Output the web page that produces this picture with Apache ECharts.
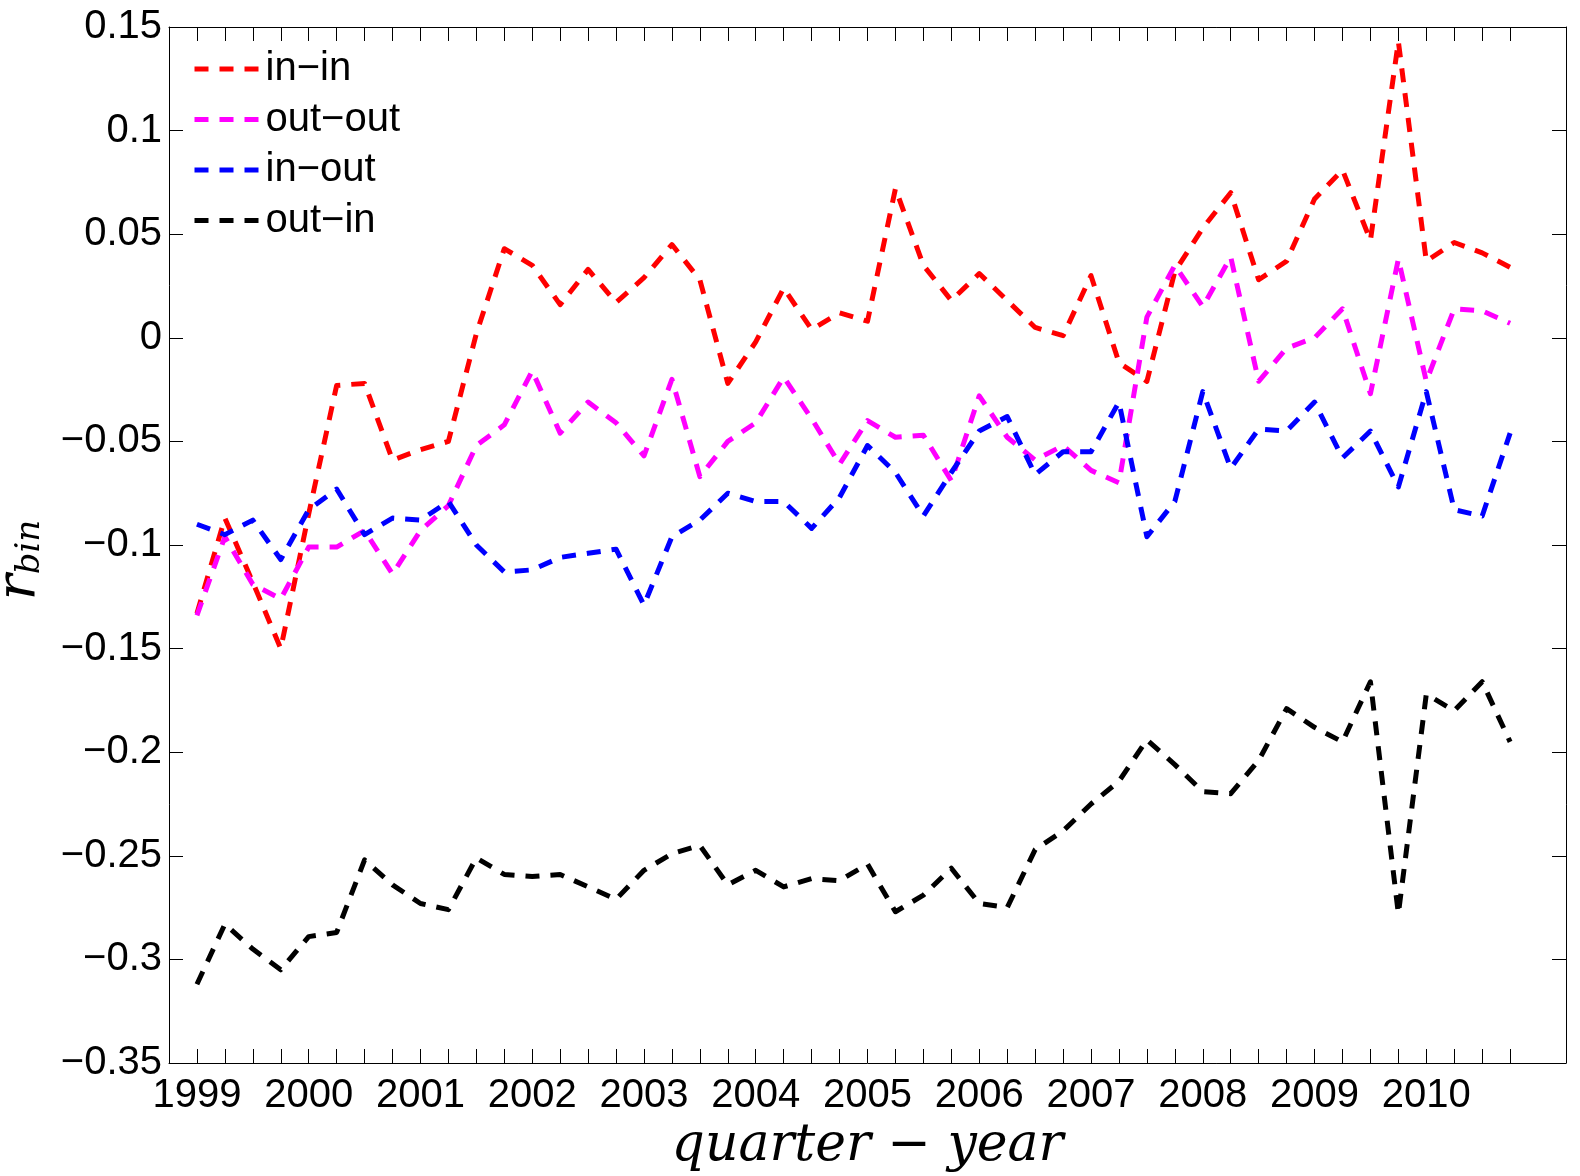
<!DOCTYPE html>
<html>
<head>
<meta charset="utf-8">
<script src="https://cdn.jsdelivr.net/npm/echarts@6/dist/echarts.min.js"></script>
<style>
html,body{margin:0;padding:0;background:#ffffff;}
#chart{width:1580px;height:1176px;}
</style>
</head>
<body>
<div id="chart"></div>
<script>
// ---- data (quarterly, 1999 Q1 .. 2010 Q4) ----
const years = ['1999','2000','2001','2002','2003','2004','2005','2006','2007','2008','2009','2010'];
const seriesNames = ['in\u2212in','out\u2212out','in\u2212out','out\u2212in'];
const seriesColors = ['#ff0000','#ff00ff','#0000ff','#000000'];

const inIn = [
  -0.133,-0.087,-0.118,-0.150, -0.085,-0.023,-0.022,-0.059,
  -0.054,-0.050, 0.002, 0.043,  0.035, 0.016, 0.033, 0.017,
   0.029, 0.045, 0.028,-0.022, -0.002, 0.024, 0.004, 0.012,
   0.008, 0.072, 0.035, 0.018,  0.031, 0.018, 0.005, 0.001,
   0.030,-0.012,-0.021, 0.032,  0.053, 0.070, 0.028, 0.037,
   0.067, 0.081, 0.047, 0.143,  0.037, 0.046, 0.041, 0.034
];
const outOut = [
  -0.134,-0.096,-0.119,-0.126, -0.101,-0.101,-0.093,-0.114,
  -0.093,-0.081,-0.052,-0.042, -0.016,-0.046,-0.031,-0.041,
  -0.057,-0.020,-0.067,-0.050, -0.041,-0.019,-0.039,-0.061,
  -0.040,-0.048,-0.047,-0.069, -0.028,-0.048,-0.059,-0.052,
  -0.064,-0.070, 0.010, 0.035,  0.015, 0.039,-0.021,-0.005,
   0.000, 0.014,-0.027, 0.038, -0.021, 0.014, 0.013, 0.007
];
const inOut = [
  -0.090,-0.095,-0.088,-0.107, -0.083,-0.073,-0.095,-0.087,
  -0.088,-0.079,-0.100,-0.113, -0.112,-0.106,-0.104,-0.102,
  -0.129,-0.096,-0.088,-0.075, -0.079,-0.079,-0.092,-0.077,
  -0.052,-0.065,-0.086,-0.065, -0.045,-0.038,-0.066,-0.055,
  -0.055,-0.031,-0.096,-0.079, -0.026,-0.063,-0.044,-0.045,
  -0.031,-0.058,-0.045,-0.072, -0.026,-0.083,-0.086,-0.046
];
const outIn = [
  -0.312,-0.283,-0.295,-0.305, -0.289,-0.287,-0.252,-0.264,
  -0.273,-0.276,-0.251,-0.259, -0.260,-0.259,-0.265,-0.271,
  -0.257,-0.249,-0.245,-0.264, -0.257,-0.265,-0.261,-0.262,
  -0.254,-0.277,-0.269,-0.256, -0.273,-0.275,-0.247,-0.238,
  -0.225,-0.214,-0.194,-0.206, -0.219,-0.220,-0.204,-0.179,
  -0.188,-0.195,-0.166,-0.278, -0.172,-0.180,-0.166,-0.195
];
const yMin = -0.35, yMax = 0.15, yStep = 0.05;

// ---- build category axis: one slot before, 48 quarters, two slots after ----
const quarters = [];
years.forEach(y => { ['Q1','Q2','Q3','Q4'].forEach(q => quarters.push(y + ' ' + q)); });
const xCats = ['pad0'].concat(quarters, ['pad49','pad50']);
const tickFn = (idx) => idx >= 1 && idx <= quarters.length;
const labelFn = (idx, val) => /Q1$/.test(val);

const allData = [inIn, outOut, inOut, outIn];
const dash = [14, 11];
const lineW = 5;

const axisLineStyle = {color:'#000000', width:1};
const tickStyle = {color:'#000000', width:1};
const tickFont = {fontFamily:'Liberation Sans', fontSize:40, color:'#000000'};

const chart = echarts.init(document.getElementById('chart'), null, {renderer:'canvas'});
chart.setOption({
  backgroundColor:'#ffffff',
  animation:false,
  grid:{left:169, top:27, right:14, bottom:113, containLabel:false, outerBoundsMode:'none'},
  legend:{
    left:187, top:44, orient:'vertical', padding:5,
    itemWidth:66, itemHeight:20, itemGap:10.5,
    itemStyle:{opacity:0},
    lineStyle:{width:lineW, type:dash, opacity:1},
    textStyle:{fontFamily:'Liberation Sans', fontSize:40, lineHeight:40, color:'#000000'},
    data: seriesNames
  },
  xAxis:[
    {
      type:'category', data:xCats, boundaryGap:false, position:'bottom',
      axisLine:{show:true, onZero:false, lineStyle:axisLineStyle},
      axisTick:{show:true, inside:true, length:14, interval:tickFn, lineStyle:tickStyle},
      axisLabel:Object.assign({interval:labelFn, formatter:(v)=>v.slice(0,4), margin:13}, tickFont),
      splitLine:{show:false},
      name:'quarter \u2212 year', nameLocation:'middle', nameGap:53,
      nameTextStyle:{fontFamily:'DejaVu Serif', fontStyle:'italic', fontSize:52, color:'#000000'}
    },
    {
      type:'category', data:xCats, boundaryGap:false, position:'top',
      axisLine:{show:true, onZero:false, lineStyle:axisLineStyle},
      axisTick:{show:true, inside:true, length:14, interval:tickFn, lineStyle:tickStyle},
      axisLabel:{show:false}, splitLine:{show:false}
    }
  ],
  yAxis:[
    {
      type:'value', min:yMin, max:yMax, interval:yStep, position:'left',
      axisLine:{show:true, onZero:false, lineStyle:axisLineStyle},
      axisTick:{show:true, inside:true, length:14, lineStyle:tickStyle},
      axisLabel:Object.assign({margin:7, formatter:(v)=>{
        const r = Math.round(v*100)/100;
        return (r < 0 ? '\u2212' : '') + String(Math.abs(r));
      }}, tickFont),
      splitLine:{show:false},
      name:'{r|r}{s|bin}', nameLocation:'middle', nameRotate:90, nameGap:122,
      nameTextStyle:{
        color:'#000000',
        padding:[0, 30, 0, 0],
        rich:{
          r:{fontFamily:'DejaVu Serif', fontStyle:'italic', fontSize:54, color:'#000000'},
          s:{fontFamily:'DejaVu Serif', fontStyle:'italic', fontSize:34, lineHeight:28, verticalAlign:'bottom', color:'#000000'}
        }
      }
    },
    {
      type:'value', min:yMin, max:yMax, interval:yStep, position:'right',
      axisLine:{show:true, onZero:false, lineStyle:axisLineStyle},
      axisTick:{show:true, inside:true, length:14, lineStyle:tickStyle},
      axisLabel:{show:false}, splitLine:{show:false}
    }
  ],
  series: allData.map((arr, k) => ({
    name: seriesNames[k],
    type:'line',
    xAxisIndex:0, yAxisIndex:0,
    data: arr.map((v, i) => [i + 1, v]),
    symbol:'none', showSymbol:false,
    color: seriesColors[k],
    lineStyle:{color:seriesColors[k], width:lineW, type:dash, cap:'butt', join:'round'},
    emphasis:{disabled:true}
  }))
});
</script>
</body>
</html>
